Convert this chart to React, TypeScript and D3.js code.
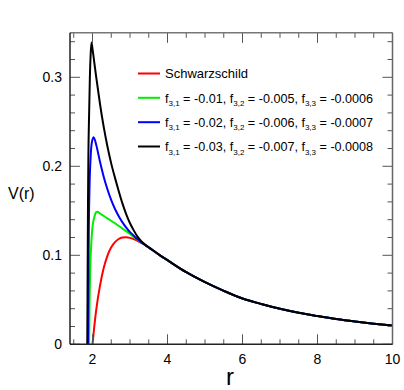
import React from "react";
import * as d3 from "d3";

// Near-horizon parts of each curve (r, V)
const schwR = [1.99, 2.0, 2.05, 2.1, 2.2, 2.3, 2.4, 2.5, 2.6, 2.7, 2.8, 2.9, 3.0, 3.1, 3.2, 3.3, 3.4, 3.5];
const schwV = [-0.004, 0.0, 0.021, 0.039, 0.066, 0.086, 0.0997, 0.109, 0.1148, 0.1183, 0.1199, 0.1203, 0.1196, 0.1182, 0.1163, 0.114, 0.1114, 0.1087];

const g1R = [1.905, 1.91, 1.92, 1.94, 1.97, 2.0, 2.05, 2.1, 2.13, 2.2, 2.4, 2.6, 2.8, 3.0, 3.2, 3.4, 3.5];
const g1V = [-0.004, 0.0, 0.04, 0.085, 0.115, 0.132, 0.143, 0.1485, 0.149, 0.147, 0.1415, 0.136, 0.13, 0.124, 0.1175, 0.1116, 0.1088];

const g2R = [1.875, 1.88, 1.89, 1.9, 1.92, 1.95, 1.98, 2.03, 2.1, 2.2, 2.3, 2.4, 2.5, 2.6, 2.7, 2.8, 2.9, 3.0, 3.1, 3.2, 3.3, 3.4, 3.5];
const g2V = [-0.004, 0.0, 0.06, 0.12, 0.175, 0.21, 0.226, 0.2326, 0.224, 0.205, 0.188, 0.174, 0.162, 0.152, 0.144, 0.137, 0.131, 0.126, 0.122, 0.118, 0.1148, 0.1118, 0.1089];

const g3R = [1.855, 1.86, 1.87, 1.88, 1.89, 1.91, 1.93, 1.95, 1.973, 2.0, 2.05, 2.1, 2.2, 2.3, 2.4, 2.5, 2.6, 2.7, 2.8, 2.9, 3.0, 3.1, 3.2, 3.3, 3.4, 3.5];
const g3V = [-0.004, 0.0, 0.08, 0.16, 0.21, 0.26, 0.3, 0.325, 0.339, 0.332, 0.316, 0.3, 0.27, 0.244, 0.222, 0.203, 0.187, 0.172, 0.158, 0.146, 0.136, 0.128, 0.121, 0.1158, 0.112, 0.109];

// Common tail (all curves coincide)
const tailR = [3.6, 3.8, 4.0, 4.5, 5.0, 5.5, 6.0, 6.5, 7.0, 7.5, 8.0, 8.5, 9.0, 9.5, 10.0];
const tailV = [0.1059, 0.1, 0.0945, 0.081, 0.0698, 0.0601, 0.0515, 0.0453, 0.0399, 0.0354, 0.0317, 0.0283, 0.0255, 0.0231, 0.021];

const seriesNames = ["Schwarzschild", "g1", "g2", "g3"];
const seriesColors = ["#ff0000", "#00ee00", "#0000ff", "#000000"];
const legendParams = [
  null,
  ["-0.01", "-0.005", "-0.0006"],
  ["-0.02", "-0.006", "-0.0007"],
  ["-0.03", "-0.007", "-0.0008"],
];

const xMajor = [2, 4, 6, 8, 10];
const yMajor = [0, 0.1, 0.2, 0.3];
const yLabels = ["0", "0.1", "0.2", "0.3"];

const W = 404;
const H = 390;
const L = 70;
const R = 392.5;
const T = 32.8;
const B = 344.3;

export default function App() {
  const x = d3.scaleLinear().domain([1.4, 10]).range([L, R]);
  const y = d3.scaleLinear().domain([0, 0.35]).range([B, T]);
  const line = d3
    .line<[number, number]>()
    .x((d) => x(d[0]))
    .y((d) => y(d[1]))
    .curve(d3.curveMonotoneX);

  const near = [
    [schwR, schwV],
    [g1R, g1V],
    [g2R, g2V],
    [g3R, g3V],
  ];
  const tail: [number, number][] = tailR.map((r, i) => [r, tailV[i]]);
  const series = near.map(([rs, vs]) => {
    const pts: [number, number][] = (rs as number[]).map((r, i) => [r, (vs as number[])[i]]);
    return pts.concat(tail);
  });

  const xMinor = d3.range(1.5, 10.001, 0.5).filter((v) => !xMajor.some((m) => Math.abs(m - v) < 1e-6));
  const yMinor = d3.range(0, 0.3501, 0.02).filter((v) => !yMajor.some((m) => Math.abs(m - v) < 1e-6));

  const tickColor = "#555";
  const font = "'Liberation Sans', Arial, Helvetica, sans-serif";
  const legendY = [73.5, 97.8, 122.2, 146.5];

  return (
    <svg
      width={W}
      height={H}
      style={{ position: "absolute", left: 0, top: 0, background: "#fff" }}
      fontFamily={font}
    >
      <defs>
        <clipPath id="plotclip">
          <rect x={L} y={T} width={R - L} height={B - T} />
        </clipPath>
      </defs>
      <rect x={0} y={0} width={W} height={H} fill="#fff" />

      <g clipPath="url(#plotclip)">
        {[0, 1, 2, 3].map((i) => (
          <path
            key={seriesNames[i]}
            d={line(series[i]) || ""}
            fill="none"
            stroke={seriesColors[i]}
            strokeWidth={2}
            strokeLinejoin="round"
          />
        ))}
      </g>

      <g stroke={tickColor} strokeWidth={1}>
        {xMajor.map((v) => (
          <g key={"xM" + v}>
            <line x1={x(v)} x2={x(v)} y1={B} y2={B - 10} />
            <line x1={x(v)} x2={x(v)} y1={T} y2={T + 10} />
          </g>
        ))}
        {xMinor.map((v) => (
          <g key={"xm" + v}>
            <line x1={x(v)} x2={x(v)} y1={B} y2={B - 5} />
            <line x1={x(v)} x2={x(v)} y1={T} y2={T + 5} />
          </g>
        ))}
        {yMajor.map((v) => (
          <g key={"yM" + v}>
            <line x1={L} x2={L + 10} y1={y(v)} y2={y(v)} />
            <line x1={R} x2={R - 10} y1={y(v)} y2={y(v)} />
          </g>
        ))}
        {yMinor.map((v) => (
          <g key={"ym" + v}>
            <line x1={L} x2={L + 5} y1={y(v)} y2={y(v)} />
            <line x1={R} x2={R - 5} y1={y(v)} y2={y(v)} />
          </g>
        ))}
      </g>

      <line x1={L} x2={R} y1={T} y2={T} stroke="#777" strokeWidth={1.5} />
      <line x1={R} x2={R} y1={T} y2={B} stroke="#666" strokeWidth={1.5} />
      <line x1={L} x2={L} y1={T} y2={B} stroke="#222" strokeWidth={1.5} />
      <line x1={L} x2={R} y1={B} y2={B} stroke="#222" strokeWidth={1.5} />

      {xMajor.map((v) => (
        <text key={"xl" + v} x={x(v)} y={364} fontSize={14} textAnchor="middle" fill="#000">
          {String(v)}
        </text>
      ))}
      {yMajor.map((v, i) => (
        <text key={"yl" + v} x={62} y={y(v) + 5} fontSize={14} textAnchor="end" fill="#000">
          {yLabels[i]}
        </text>
      ))}

      <text x={8} y={199} fontSize={16} fill="#000">
        V(r)
      </text>
      <text x={230} y={385} fontSize={24} textAnchor="middle" fill="#000">
        r
      </text>

      {legendY.map((ly, i) => (
        <g key={"lg" + i}>
          <line x1={138} x2={160} y1={ly} y2={ly} stroke={seriesColors[i]} strokeWidth={2} />
          {i === 0 ? (
            <text x={165} y={ly + 4.7} fontSize={13} fill="#000">
              {seriesNames[0]}
            </text>
          ) : (
            <text x={165} y={ly + 4.7} fontSize={12.6} fill="#000">
              f<tspan fontSize={8} dy={3.5}>3,1</tspan>
              <tspan dy={-3.5}> = {legendParams[i]![0]}, f</tspan>
              <tspan fontSize={8} dy={3.5}>3,2</tspan>
              <tspan dy={-3.5}> = {legendParams[i]![1]}, f</tspan>
              <tspan fontSize={8} dy={3.5}>3,3</tspan>
              <tspan dy={-3.5}> = {legendParams[i]![2]}</tspan>
            </text>
          )}
        </g>
      ))}
    </svg>
  );
}
